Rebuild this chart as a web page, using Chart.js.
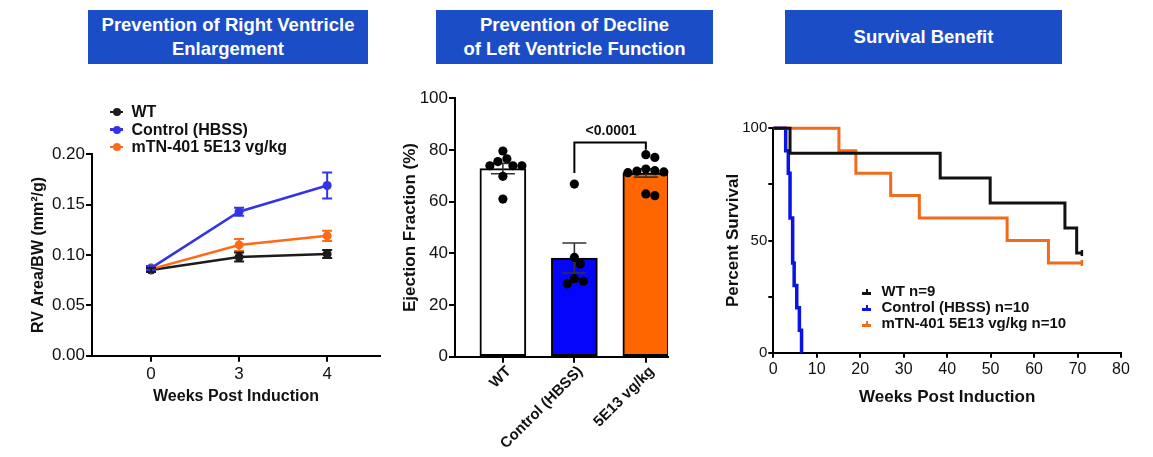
<!DOCTYPE html>
<html>
<head>
<meta charset="utf-8">
<script src="https://cdn.jsdelivr.net/npm/chart.js@4/dist/chart.umd.min.js"></script>
<style>
html,body{margin:0;padding:0;background:#fff;width:1153px;height:457px;overflow:hidden;font-family:"Liberation Sans",Arial,sans-serif;}
canvas{position:absolute;left:0;top:0;}
.tbox{position:absolute;top:10px;height:54px;background:#1b4dc6;color:#fff;font-weight:bold;font-size:18.5px;line-height:24px;display:flex;align-items:center;justify-content:center;text-align:center;}
.row{position:absolute;white-space:nowrap;font-weight:bold;color:#111;height:18px;line-height:18px;}
.lmk{position:absolute;height:2.5px;}
.lmk i{position:absolute;left:50%;top:50%;width:8px;height:8px;margin:-4px 0 0 -4px;border-radius:50%;}
.smk{position:absolute;height:2.5px;width:9px;}
.smk i{position:absolute;left:3.5px;bottom:0;width:2.5px;height:6px;}
</style>
</head>
<body>
<div class="tbox" style="left:88px;width:280px;">Prevention of Right Ventricle<br>Enlargement</div>
<div class="tbox" style="left:436px;width:277px;">Prevention of Decline<br>of Left Ventricle Function</div>
<div class="tbox" style="left:785px;width:277px;">Survival Benefit</div>

<canvas id="c1" width="1153" height="457"></canvas>
<canvas id="c2" width="1153" height="457"></canvas>
<canvas id="c3" width="1153" height="457"></canvas>

<div id="leg1"></div>
<div id="leg3"></div>

<script>
// ---------- Panel 1: RV Area/BW ----------
const rvWeeks = ['0', '3', '4'];
const rvWT = [0.085, 0.098, 0.101];
const rvWTsem = [0.002, 0.0045, 0.004];
const rvCtrl = [0.087, 0.143, 0.169];
const rvCtrlSem = [0.002, 0.004, 0.013];
const rvTrt = [0.086, 0.110, 0.119];
const rvTrtSem = [0.002, 0.006, 0.005];
const rvNames = ['WT', 'Control (HBSS)', 'mTN-401 5E13 vg/kg'];

// ---------- Panel 2: Ejection fraction ----------
const efGroups = ['WT', 'Control (HBSS)', '5E13 vg/kg'];
const efMeans = [72.8, 38.2, 71.1];
const efSems = [2.0, 5.8, 1.6];
const efWT = [79.6, 76.6, 75.5, 73.9, 73.9, 73.9, 69.8, 61.0];
const efCtrl = [66.8, 38.4, 35.9, 30.2, 29.2, 28.2];
const efTrt = [78.2, 77.1, 72.6, 72.0, 71.8, 71.5, 71.2, 71.0, 63.0, 62.3];
const efPvalue = '<0.0001';

// ---------- Panel 3: Survival ----------
const survWTtime = [0, 3.85, 38.4, 49.9, 67.1, 69.8, 71.0];
const survWT = [100, 88.9, 77.8, 66.7, 55.6, 44.4, 44.4];
const survCtrlTime = [0, 2.85, 3.45, 3.85, 4.45, 4.8, 5.4, 6.0, 6.5];
const survCtrl = [100, 90, 80, 60, 40, 30, 20, 10, 0];
const survTrtTime = [0, 15.1, 19.0, 27.0, 33.6, 53.8, 63.3, 71.0];
const survTrt = [100, 90, 80, 70, 60, 50, 40, 40];
const survNames = ['WT n=9', 'Control (HBSS) n=10', 'mTN-401 5E13 vg/kg n=10'];

const FONT = '"Liberation Sans", Arial, sans-serif';
Chart.defaults.font.family = FONT;
Chart.defaults.color = '#111';

const cWT = '#1c1c1c', cCtrl = '#3434e6', cTrt = '#ff6a1a';

function axisCommon() {
  return {
    grid: {drawOnChartArea: false, drawTicks: true, tickLength: 6, color: '#000', lineWidth: 2, offset: false},
    border: {display: true, color: '#000', width: 2}
  };
}

// Error-bar plugin for the line chart
const lineErr = {
  id: 'lineErr',
  afterDatasetsDraw(chart) {
    const ctx = chart.ctx, xs = chart.scales.x, ys = chart.scales.y;
    chart.data.datasets.forEach(ds => {
      ctx.save();
      ctx.strokeStyle = ds.borderColor;
      ctx.lineWidth = 2;
      ds.data.forEach((p, i) => {
        const s = ds.sem[i];
        const x = xs.getPixelForValue(p.x);
        const y1 = ys.getPixelForValue(p.y + s), y2 = ys.getPixelForValue(p.y - s);
        ctx.beginPath();
        ctx.moveTo(x, y1); ctx.lineTo(x, y2);
        ctx.moveTo(x - 5, y1); ctx.lineTo(x + 5, y1);
        ctx.moveTo(x - 5, y2); ctx.lineTo(x + 5, y2);
        ctx.stroke();
      });
      ctx.restore();
    });
  }
};

new Chart(document.getElementById('c1'), {
  type: 'line',
  data: {
    datasets: [
      {label: rvNames[2], data: rvTrt.map((v, i) => ({x: i, y: v})), sem: rvTrtSem, borderColor: cTrt, backgroundColor: cTrt},
      {label: rvNames[1], data: rvCtrl.map((v, i) => ({x: i, y: v})), sem: rvCtrlSem, borderColor: cCtrl, backgroundColor: cCtrl},
      {label: rvNames[0], data: rvWT.map((v, i) => ({x: i, y: v})), sem: rvWTsem, borderColor: cWT, backgroundColor: cWT}
    ].map(d => Object.assign(d, {borderWidth: 2.5, pointRadius: 4.5, pointBorderWidth: 0, tension: 0}))
  },
  options: {
    responsive: false, animation: false, events: [],
    layout: {padding: {left: 31, top: 154.3, right: 773, bottom: 52.3}},
    plugins: {legend: {display: false}, tooltip: {enabled: false}},
    scales: {
      x: Object.assign(axisCommon(), {
        type: 'linear', min: -0.67, max: 2.6, offset: false,
        afterBuildTicks: s => { s.ticks = rvWeeks.map((_, i) => ({value: i})); },
        afterFit: s => { s.height = 49; },
        ticks: {callback: v => rvWeeks[v], font: {size: 17}, color: '#111', padding: 2, autoSkip: false, maxRotation: 0},
        title: {display: true, text: 'Weeks Post Induction', font: {size: 16, weight: 'bold', lineHeight: 1}, color: '#111', padding: 0}
      }),
      y: Object.assign(axisCommon(), {
        min: 0, max: 0.2,
        afterFit: s => { s.width = 61; },
        ticks: {stepSize: 0.05, callback: v => Number(v).toFixed(2), font: {size: 17}, color: '#111', padding: 1},
        title: {display: true, text: 'RV Area/BW (mm²/g)', font: {size: 16, weight: 'bold', lineHeight: 1}, color: '#111', padding: 0}
      })
    }
  },
  plugins: [lineErr]
});

// ---------- Panel 2 ----------
const EF_PX_X = 71.5, EF_PX_Y = 2.584, DOT_R = 4.6;
function swarm(vals, center) {
  const placed = [];
  return vals.map(v => {
    const y = v * EF_PX_Y;
    let dx = 0;
    for (let k = 0; k < 400; k++) {
      const cand = k === 0 ? 0 : (k % 2 ? 1 : -1) * Math.ceil(k / 2);
      if (placed.every(p => Math.hypot(p.x - cand, p.y - y) >= 2 * DOT_R - 0.6)) { dx = cand; break; }
    }
    placed.push({x: dx, y});
    return {x: center + dx / EF_PX_X, y: v};
  });
}
const efDots = [].concat(swarm(efWT, 0), swarm(efCtrl, 1), swarm(efTrt, 2));

const barErr = {
  id: 'barErr',
  afterDatasetDraw(chart, args) {
    if (args.index !== 1) return;
    const ctx = chart.ctx, xs = chart.scales.x, ys = chart.scales.y;
    ctx.save();
    ctx.strokeStyle = '#333';
    ctx.lineWidth = 1.6;
    efMeans.forEach((m, i) => {
      const x = xs.getPixelForValue(i);
      const y1 = ys.getPixelForValue(m + efSems[i]), y2 = ys.getPixelForValue(m - efSems[i]);
      ctx.beginPath();
      ctx.moveTo(x, y1); ctx.lineTo(x, y2);
      ctx.moveTo(x - 12, y1); ctx.lineTo(x + 12, y1);
      ctx.moveTo(x - 12, y2); ctx.lineTo(x + 12, y2);
      ctx.stroke();
    });
    ctx.restore();
  },
  afterDatasetsDraw(chart) {
    const o = chart.options.plugins.bracket;
    const ctx = chart.ctx, xs = chart.scales.x, ys = chart.scales.y;
    const xa = xs.getPixelForValue(o.from), xb = xs.getPixelForValue(o.to);
    ctx.save();
    ctx.strokeStyle = '#000';
    ctx.lineWidth = 2;
    ctx.beginPath();
    ctx.moveTo(xa, ys.getPixelForValue(o.leftY));
    ctx.lineTo(xa, ys.getPixelForValue(o.topY));
    ctx.lineTo(xb, ys.getPixelForValue(o.topY));
    ctx.lineTo(xb, ys.getPixelForValue(o.rightY));
    ctx.stroke();
    ctx.fillStyle = '#111';
    ctx.font = 'bold 14px ' + FONT;
    ctx.textAlign = 'center';
    ctx.textBaseline = 'middle';
    ctx.fillText(o.label, (xa + xb) / 2 + 1, ys.getPixelForValue(o.labelY));
    ctx.restore();
  }
};

new Chart(document.getElementById('c2'), {
  type: 'bar',
  data: {
    datasets: [
      {type: 'scatter', data: efDots, backgroundColor: '#000', borderWidth: 0, pointRadius: DOT_R, clip: false},
      {type: 'bar', data: efMeans.map((v, i) => ({x: i, y: v})),
       backgroundColor: ['#ffffff', '#0505fa', '#ff6600'], borderColor: '#000', borderWidth: 2,
       borderSkipped: false, barThickness: 46}
    ]
  },
  options: {
    responsive: false, animation: false, events: [],
    layout: {padding: {left: 402.2, top: 98.3, right: 485, bottom: 10.3}},
    plugins: {legend: {display: false}, tooltip: {enabled: false},
      bracket: {from: 1, to: 2, leftY: 71.1, topY: 82.9, rightY: 80.1, labelY: 87.4, label: efPvalue}},
    scales: {
      x: Object.assign(axisCommon(), {
        type: 'linear', min: -0.67, max: 2.31, offset: false,
        afterBuildTicks: s => { s.ticks = efGroups.map((_, i) => ({value: i})); },
        afterFit: s => { s.height = 90; },
        ticks: {callback: v => efGroups[v], font: {size: 15, weight: 'bold'}, color: '#111', padding: 0, labelOffset: 6,
                autoSkip: false, minRotation: 45, maxRotation: 45}
      }),
      y: Object.assign(axisCommon(), {
        min: 0, max: 100,
        afterFit: s => { s.width = 52.8; },
        ticks: {stepSize: 20, font: {size: 17}, color: '#111', padding: 1},
        title: {display: true, text: 'Ejection Fraction (%)', font: {size: 17, weight: 'bold', lineHeight: 1}, color: '#111', padding: 0}
      })
    }
  },
  plugins: [barErr]
});

// ---------- Panel 3 ----------
const sWT = '#111111', sCtrl = '#0a14e6', sTrt = '#f26b1d';
function km(times, vals) { return times.map((t, i) => ({x: t, y: vals[i]})); }
function censor(n) { return ctx => (ctx.dataIndex === n - 1 ? 3 : 0); }

new Chart(document.getElementById('c3'), {
  type: 'line',
  data: {
    datasets: [
      {data: km(survWTtime, survWT), borderColor: sWT, backgroundColor: sWT, borderWidth: 3,
       pointRadius: censor(survWT.length), pointStyle: 'line', rotation: 90, pointBorderWidth: 2.5, pointBorderColor: sWT},
      {data: km(survTrtTime, survTrt), borderColor: sTrt, backgroundColor: sTrt, borderWidth: 3,
       pointRadius: censor(survTrt.length), pointStyle: 'line', rotation: 90, pointBorderWidth: 2.5, pointBorderColor: sTrt},
      {data: km(survCtrlTime, survCtrl), borderColor: sCtrl, backgroundColor: sCtrl, borderWidth: 3.5, pointRadius: 0}
    ].map(d => Object.assign(d, {stepped: true, clip: false, fill: false}))
  },
  options: {
    responsive: false, animation: false, events: [],
    layout: {padding: {left: 724.8, top: 128.3, right: 32, bottom: 50.8}},
    plugins: {legend: {display: false}, tooltip: {enabled: false}},
    scales: {
      x: Object.assign(axisCommon(), {
        type: 'linear', min: 0, max: 80,
        afterFit: s => { s.height = 53.5; },
        grid: {drawOnChartArea: false, drawTicks: true, tickLength: 5, color: '#000', lineWidth: 2},
        ticks: {stepSize: 10, font: {size: 16}, color: '#111', padding: 2, maxRotation: 0},
        title: {display: true, text: 'Weeks Post Induction', font: {size: 17, weight: 'bold', lineHeight: 1}, color: '#111', padding: 0}
      }),
      y: Object.assign(axisCommon(), {
        min: 0, max: 100,
        afterFit: s => { s.width = 48.5; },
        grid: {drawOnChartArea: false, drawTicks: true, tickLength: 5, color: '#000', lineWidth: 2},
        ticks: {stepSize: 25, callback: v => (v % 50 === 0 ? v : ''), font: {size: 15}, color: '#111', padding: 1},
        title: {display: true, text: 'Percent Survival', font: {size: 17, weight: 'bold', lineHeight: 1}, color: '#111', padding: 0}
      })
    }
  }
});

// ---------- HTML legends ----------
(function () {
  const l1 = document.getElementById('leg1');
  const cols1 = [cWT, cCtrl, cTrt], ys1 = [112, 129.5, 147];
  rvNames.forEach((n, i) => {
    const mk = document.createElement('div');
    mk.className = 'lmk';
    mk.style.cssText = `left:110px;width:13px;top:${ys1[i] - 1.25}px;background:${cols1[i]}`;
    mk.innerHTML = `<i style="background:${cols1[i]}"></i>`;
    l1.appendChild(mk);
    const r = document.createElement('div');
    r.className = 'row';
    r.style.cssText = `left:131.5px;top:${ys1[i] - 9}px;font-size:16px;`;
    r.textContent = n;
    l1.appendChild(r);
  });
  const l3 = document.getElementById('leg3');
  const cols3 = [sWT, sCtrl, sTrt], ys3 = [291, 307, 323];
  survNames.forEach((n, i) => {
    const mk = document.createElement('div');
    mk.className = 'smk';
    mk.style.cssText = `left:862px;top:${ys3[i] + 1}px;background:${cols3[i]}`;
    mk.innerHTML = `<i style="background:${cols3[i]}"></i>`;
    l3.appendChild(mk);
    const r = document.createElement('div');
    r.className = 'row';
    r.style.cssText = `left:881.5px;top:${ys3[i] - 9}px;font-size:15px;`;
    r.textContent = n;
    l3.appendChild(r);
  });
})();
</script>
</body>
</html>
